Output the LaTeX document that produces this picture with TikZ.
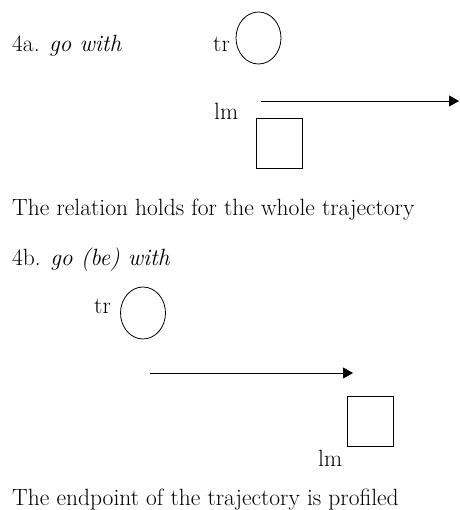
\documentclass[tikz,border=0pt]{standalone}
\usepackage{tikz}
\usetikzlibrary{arrows.meta, shapes.geometric}
\tikzset{
    txtNode/.style={anchor=base west, inner sep=0pt, font=\fontsize{23.5}{28}\selectfont},
    trBlob/.style={ellipse, draw=black, line width=0.8pt, inner sep=0pt, minimum width=45pt, minimum height=52pt},
    lmBox/.style={rectangle, draw=black, line width=0.8pt, inner sep=0pt, minimum width=46pt, minimum height=50pt},
    pathArrow/.style={-{Triangle[length=10pt, width=11pt]}, line width=0.8pt}
}

\begin{document}
\begin{tikzpicture}[x=1pt, y=-1pt]
    \useasboundingbox (0,0) rectangle (459,510);
    % --- 4a ---
    \node[txtNode] (headA) at (12,52) {4a. \textit{go with}};
    \node[txtNode] (trA) at (213,52) {tr};
    \node[trBlob] (blobA) at (258.5,38) {};
    \node[txtNode] (lmA) at (214,120) {lm};
    \node[lmBox] (boxA) at (279,143) {};
    \coordinate (pathA0) at (261,101); \coordinate (pathA1) at (459,101);
    \draw[pathArrow] (pathA0)--(pathA1);
    \node[txtNode] (noteA) at (12,215) {The relation holds for the whole trajectory};
    % --- 4b ---
    \node[txtNode] (headB) at (12,265) {4b. \textit{go (be) with}};
    \node[txtNode] (trB) at (94,313) {tr};
    \node[trBlob] (blobB) at (143,313) {};
    \coordinate (pathB0) at (150,373); \coordinate (pathB1) at (353,373);
    \draw[pathArrow] (pathB0)--(pathB1);
    \node[lmBox] (boxB) at (370.5,421.5) {};
    \node[txtNode] (lmB) at (318,466) {lm};
    \node[txtNode] (noteB) at (12,505) {The endpoint of the trajectory is profiled};
\end{tikzpicture}
\end{document}
